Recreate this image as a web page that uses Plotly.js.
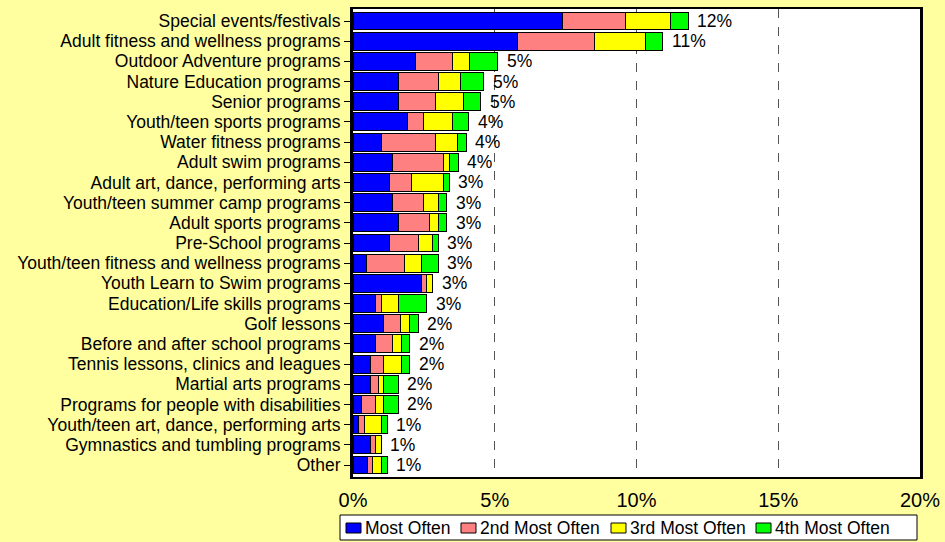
<!DOCTYPE html>
<html><head><meta charset="utf-8">
<script src="https://cdn.plot.ly/plotly-3.0.1.min.js"></script>
<style>body{margin:0;background:#FFFFA0}</style>
</head><body>
<div id="chart" style="width:945px;height:542px"></div>
<script>
const categories = [
  "Special events/festivals",
  "Adult fitness and wellness programs",
  "Outdoor Adventure programs",
  "Nature Education programs",
  "Senior programs",
  "Youth/teen sports programs",
  "Water fitness programs",
  "Adult swim programs",
  "Adult art, dance, performing arts",
  "Youth/teen summer camp programs",
  "Adult sports programs",
  "Pre-School programs",
  "Youth/teen fitness and wellness programs",
  "Youth Learn to Swim programs",
  "Education/Life skills programs",
  "Golf lessons",
  "Before and after school programs",
  "Tennis lessons, clinics and leagues",
  "Martial arts programs",
  "Programs for people with disabilities",
  "Youth/teen art, dance, performing arts",
  "Gymnastics and tumbling programs",
  "Other"
];
const mostOften   = [7.40, 5.80, 2.21, 1.60, 1.60, 1.91, 1.00, 1.39, 1.30, 1.39, 1.59, 1.30, 0.49, 2.41, 0.80, 1.09, 0.80, 0.60, 0.60, 0.30, 0.20, 0.60, 0.50];
const second      = [2.20, 2.71, 1.30, 1.40, 1.31, 0.59, 1.91, 1.80, 0.78, 1.11, 1.11, 1.01, 1.31, 0.18, 0.20, 0.60, 0.61, 0.49, 0.30, 0.50, 0.20, 0.20, 0.20];
const third       = [1.60, 1.80, 0.60, 0.80, 0.99, 1.01, 0.79, 0.20, 1.11, 0.50, 0.30, 0.49, 0.60, 0.20, 0.60, 0.31, 0.30, 0.62, 0.19, 0.29, 0.60, 0.20, 0.30];
const fourth      = [0.63, 0.61, 0.99, 0.81, 0.61, 0.58, 0.30, 0.32, 0.21, 0.30, 0.30, 0.20, 0.60, 0.03, 1.00, 0.31, 0.29, 0.29, 0.51, 0.51, 0.20, 0.00, 0.20];
const totalLabels = ["12%","11%","5%","5%","5%","4%","4%","4%","3%","3%","3%","3%","3%","3%","3%","2%","2%","2%","2%","2%","1%","1%","1%"];
const seriesNames = ["Most Often","2nd Most Often","3rd Most Often","4th Most Often"];
const seriesColors = ["#0000FF","#FF8080","#FFFF00","#00FF00"];
const xTickVals = [0,5,10,15,20];
const xTickText = ["0%","5%","10%","15%","20%"];

const FONT = 'Liberation Sans, Arial, sans-serif';
const seriesValues = [mostOften, second, third, fourth];
const traces = seriesValues.map((vals, i) => ({
  type: 'bar', orientation: 'h',
  x: vals, y: categories, name: seriesNames[i],
  marker: {color: seriesColors[i], line: {color: '#000', width: 1}},
  hoverinfo: 'x+y'
}));

const totals = categories.map((c, i) => seriesValues.reduce((s, v) => s + v[i], 0));
const annotations = categories.map((c, i) => ({
  x: totals[i], y: c, xref: 'x', yref: 'y',
  text: totalLabels[i], showarrow: false, xanchor: 'left', xshift: 7,
  font: {family: FONT, size: 17.5, color: '#000'}
}));

// custom legend (box, swatches, labels) placed in paper coordinates
const M = {l: 353, r: 25, t: 9, b: 65};
const PW = 945 - M.l - M.r, PH = 542 - M.t - M.b;
const px = v => (v - M.l) / PW;
const py = v => (542 - M.b - v) / PH;
const shapes = [{type: 'rect', xref: 'paper', yref: 'paper',
  x0: px(340), x1: px(917), y0: py(540), y1: py(515),
  fillcolor: '#FFFFFF', line: {color: '#000', width: 1}}];
const swatchLeft = [346, 461, 611, 756];
seriesNames.forEach((name, i) => {
  shapes.push({type: 'rect', xref: 'paper', yref: 'paper',
    x0: px(swatchLeft[i]), x1: px(swatchLeft[i] + 15), y0: py(533), y1: py(523),
    fillcolor: seriesColors[i], line: {color: '#000', width: 1}});
  annotations.push({xref: 'paper', yref: 'paper', x: px(swatchLeft[i] + 17), y: py(528),
    xanchor: 'left', yanchor: 'middle', showarrow: false, text: name,
    font: {family: FONT, size: 17.5, color: '#000'}});
});

const layout = {
  width: 945, height: 542,
  barmode: 'stack', bargap: 0.11,
  paper_bgcolor: '#FFFFA0', plot_bgcolor: '#FFFFFF',
  margin: M,
  font: {family: FONT, color: '#000'},
  showlegend: false,
  xaxis: {range: [0, 20], tickvals: xTickVals, ticktext: xTickText,
    showgrid: true, gridcolor: '#555', griddash: 'dash', gridwidth: 1,
    showline: true, linecolor: '#000', linewidth: 2, mirror: true,
    ticks: 'outside', ticklen: 4, tickcolor: 'rgba(0,0,0,0)',
    tickfont: {size: 20}, zeroline: false, fixedrange: true},
  yaxis: {categoryorder: 'array', categoryarray: categories, autorange: 'reversed',
    tickmode: 'array', tickvals: categories, ticktext: categories,
    showline: true, linecolor: '#000', linewidth: 3, mirror: true,
    ticks: 'outside', ticklen: 6, tickcolor: '#000', tickfont: {size: 17.5},
    showgrid: false, fixedrange: true},
  shapes: shapes,
  annotations: annotations
};

Plotly.newPlot('chart', traces, layout, {displayModeBar: false, staticPlot: true});
</script>
</body></html>
